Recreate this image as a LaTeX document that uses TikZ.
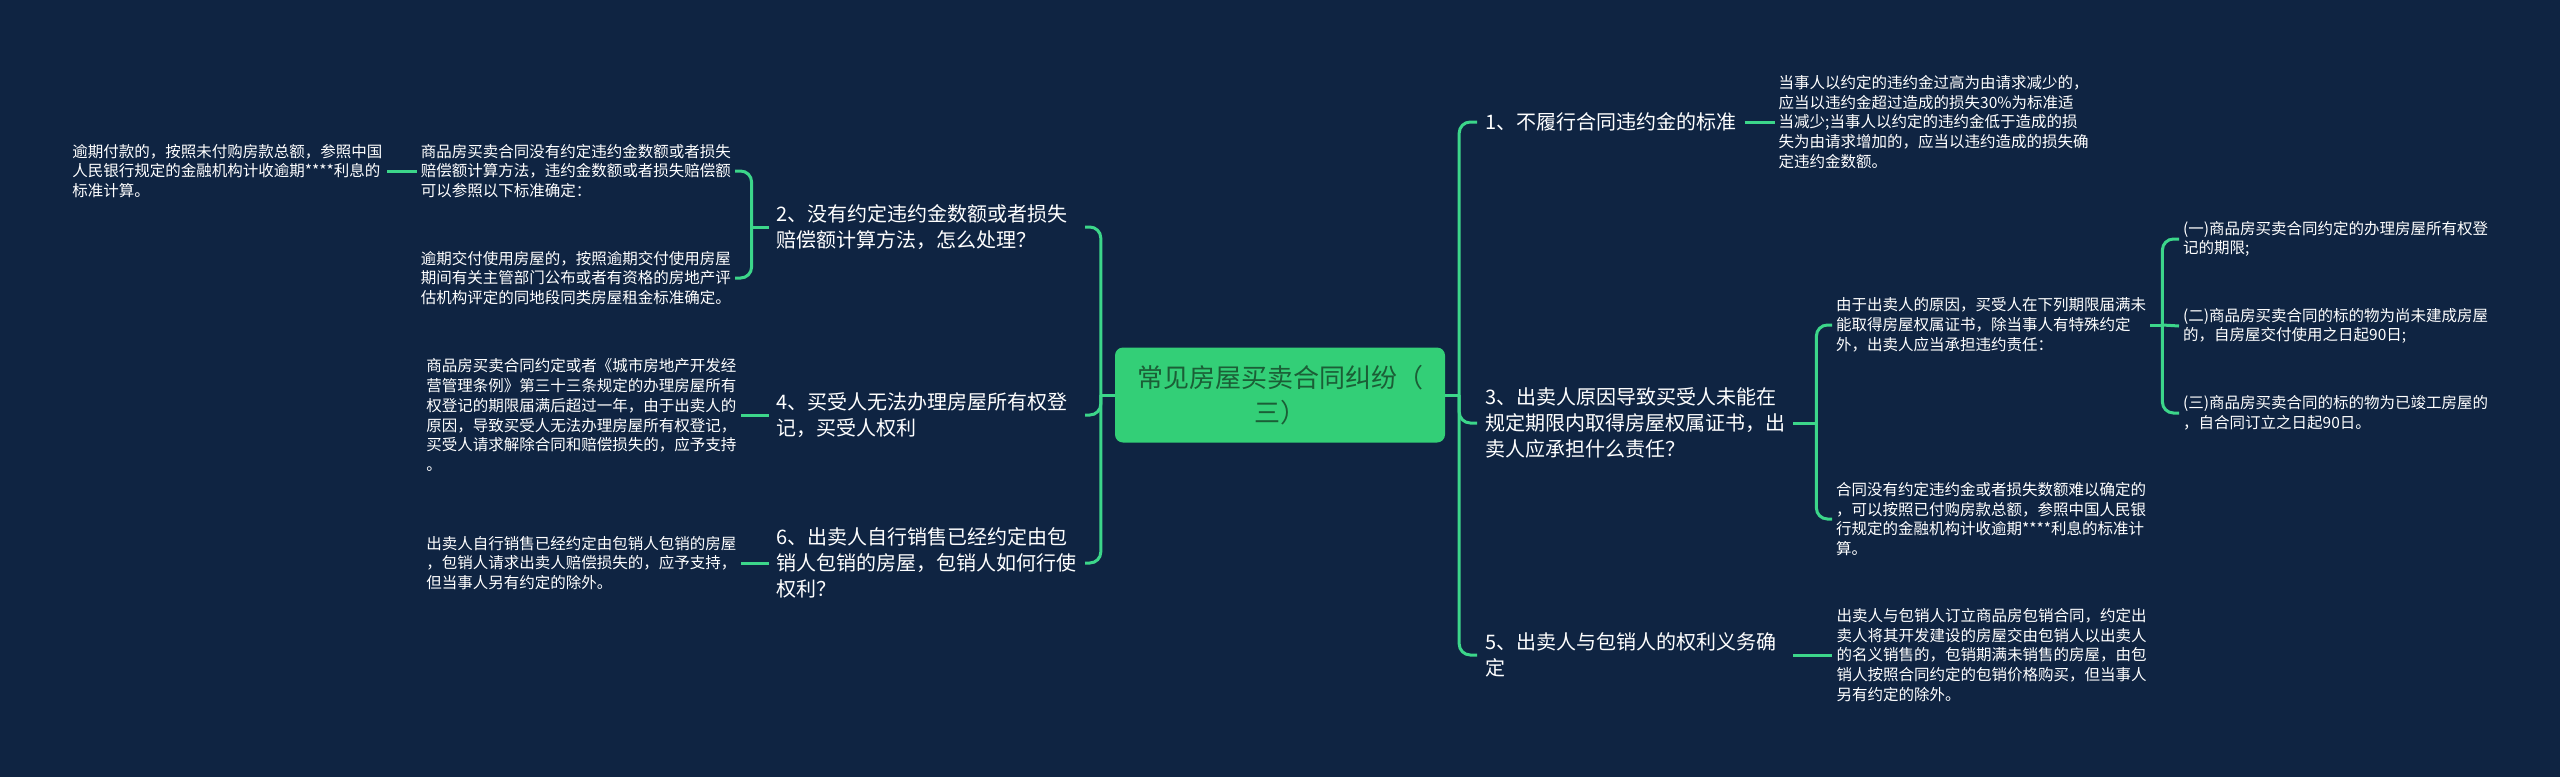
\documentclass[tikz,border=0pt]{standalone}
\usepackage{fontspec}
\setmainfont{Noto Sans CJK SC}
\usepackage{tikz}
\usetikzlibrary{positioning}
\definecolor{bgnavy}{HTML}{0F2442}
\definecolor{linkgreen}{HTML}{3CD68A}
\definecolor{rootfill}{HTML}{33CF77}
\definecolor{roottext}{HTML}{1B5E36}

\begin{document}
\begin{tikzpicture}[x=1pt, y=-1pt, node distance=30pt,
    root/.style={rectangle, rounded corners=8pt, fill=rootfill, text=roottext, align=center,
      minimum width=330pt, minimum height=95pt, font=\fontsize{26pt}{35pt}\selectfont},
    branch/.style={text=white, align=left, inner xsep=8pt, inner ysep=3pt, font=\fontsize{20pt}{26pt}\selectfont},
    branchbox/.style={branch, text width=300pt},
    leaf/.style={text=white, align=left, inner xsep=4pt, inner ysep=2pt, font=\fontsize{15.5pt}{19.8pt}\selectfont},
    link/.style={draw=linkgreen, line width=3pt, rounded corners=11pt}]
      \fill[bgnavy] (0,0) rectangle (2560,777);
      \useasboundingbox (0,0) rectangle (2560,777);

      \node (root) [root] at (1280,395) {常见房屋买卖合同纠纷（\\三）};

      % right side
      \node (b1) [branch, anchor=west] at (1477,122) {1、不履行合同违约金的标准};
      \node (b3) [branchbox, anchor=west] at (1477,423)
        {3、出卖人原因导致买受人未能在\\规定期限内取得房屋权属证书，出\\卖人应承担什么责任？};
      \node (b5) [branchbox, anchor=west] at (1477,655)
        {5、出卖人与包销人的权利义务确\\定};
      \node (l1) [leaf, right=of b1]
        {当事人以约定的违约金过高为由请求减少的，\\应当以违约金超过造成的损失30\%为标准适\\当减少;当事人以约定的违约金低于造成的损\\失为由请求增加的，应当以违约造成的损失确\\定违约金数额。};
      \node (l5) [leaf, right=39pt of b5]
        {出卖人与包销人订立商品房包销合同，约定出\\卖人将其开发建设的房屋交由包销人以出卖人\\的名义销售的，包销期满未销售的房屋，由包\\销人按照合同约定的包销价格购买，但当事人\\另有约定的除外。};
      \node (c31) [leaf, anchor=west] at (1832,325)
        {由于出卖人的原因，买受人在下列期限届满未\\能取得房屋权属证书，除当事人有特殊约定\\外，出卖人应当承担违约责任：};
      \node (c32) [leaf, anchor=west] at (1832,519)
        {合同没有约定违约金或者损失数额难以确定的\\，可以按照已付购房款总额，参照中国人民银\\行规定的金融机构计收逾期****利息的标准计\\算。};
      \node (c311) [leaf, anchor=west] at (2179,239) {(一)商品房买卖合同约定的办理房屋所有权登\\记的期限;};
      \node (c312) [leaf, anchor=west] at (2179,326) {(二)商品房买卖合同的标的物为尚未建成房屋\\的，自房屋交付使用之日起90日;};
      \node (c313) [leaf, anchor=west] at (2179,413) {(三)商品房买卖合同的标的物为已竣工房屋的\\，自合同订立之日起90日。};

      % left side
      \node (b2) [branchbox, anchor=east] at (1085,227)
        {2、没有约定违约金数额或者损失\\赔偿额计算方法，怎么处理？};
      \node (b4) [branchbox, anchor=east] at (1085,415)
        {4、买受人无法办理房屋所有权登\\记，买受人权利};
      \node (b6) [branchbox, anchor=east] at (1085,563)
        {6、出卖人自行销售已经约定由包\\销人包销的房屋，包销人如何行使\\权利？};
      \node (c21) [leaf, anchor=east] at (735,171)
        {商品房买卖合同没有约定违约金数额或者损失\\赔偿额计算方法，违约金数额或者损失赔偿额\\可以参照以下标准确定：};
      \node (c22) [leaf, anchor=east] at (735,278)
        {逾期交付使用房屋的，按照逾期交付使用房屋\\期间有关主管部门公布或者有资格的房地产评\\估机构评定的同地段同类房屋租金标准确定。};
      \node (c211) [leaf, left=30pt of c21]
        {逾期付款的，按照未付购房款总额，参照中国\\人民银行规定的金融机构计收逾期****利息的\\标准计算。};
      \node (c41) [leaf, left=28pt of b4]
        {商品房买卖合同约定或者《城市房地产开发经\\营管理条例》第三十三条规定的办理房屋所有\\权登记的期限届满后超过一年，由于出卖人的\\原因，导致买受人无法办理房屋所有权登记，\\买受人请求解除合同和赔偿损失的，应予支持\\。};
      \node (c61) [leaf, left=28pt of b6]
        {出卖人自行销售已经约定由包销人包销的房屋\\，包销人请求出卖人赔偿损失的，应予支持，\\但当事人另有约定的除外。};

      \draw[link] (root.east) -- ++(14,0) coordinate (rt);
      \draw[link] (rt) |- (b1.west);
      \draw[link] (rt) |- (b3.west);
      \draw[link] (rt) |- (b5.west);
      \draw[link] (b1) -- (l1);
      \draw[link] (b5) -- (l5);
      \draw[link] (b3.east) -- ++(23,0) coordinate (b3t);
      \draw[link] (b3t) |- (c31.west);
      \draw[link] (b3t) |- (c32.west);
      \draw[link] (c31.east) -- ++(12,0) coordinate (c31t);
      \draw[link] (c31t) |- (c311.west);
      \draw[link] (c31t) -- (c312.west);
      \draw[link] (c31t) |- (c313.west);

      \draw[link] (root.west) -- ++(-14,0) coordinate (lt);
      \draw[link] (lt) |- (b2.east);
      \draw[link] (lt) |- (b4.east);
      \draw[link] (lt) |- (b6.east);
      \draw[link] (b2.west) -- ++(-17,0) coordinate (b2t);
      \draw[link] (b2t) |- (c21.east);
      \draw[link] (b2t) |- (c22.east);
      \draw[link] (c21) -- (c211);
      \draw[link] (b4) -- (c41);
      \draw[link] (b6) -- (c61);
    \end{tikzpicture}
\end{document}
